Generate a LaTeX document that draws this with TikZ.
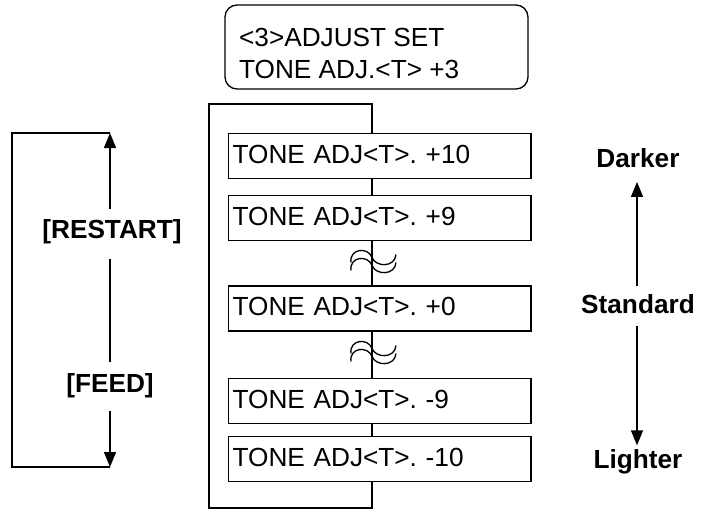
\documentclass[tikz,border=0pt]{standalone}
\usepackage{fontspec}
\setmainfont{Liberation Sans}
\usetikzlibrary{arrows.meta}
\frenchspacing
\begin{document}
\begin{tikzpicture}[x=1pt,y=-1pt,line width=1.3pt,
  txt/.style={font=\fontsize{26.2}{31}\selectfont\frenchspacing,inner sep=0pt},
  btxt/.style={font=\bfseries\fontsize{26.2}{31}\selectfont,inner sep=0pt},
  tbox/.style={draw,font=\fontsize{26.2}{31}\selectfont\frenchspacing,text width=294pt,
    inner xsep=4.4pt,inner ysep=0pt,minimum height=45pt,align=left,
    text height=19pt,text depth=5pt},
  arr/.style={-{Triangle[length=15pt,width=12pt]}},
  brk/.style={line width=1.3pt}
]
\useasboundingbox (0,0) rectangle (702,509);

% top display panel
\node[draw,rounded corners=12pt,minimum width=303pt,minimum height=84pt,inner sep=0pt] (panel) at (376.5,47) {};
\node[txt,anchor=base west] (p1) at (238.5,46.7) {<3>ADJUST SET};
\node[txt,anchor=base west] (p2) at (238.5,78.3) {TONE ADJ.<T> +3};

% boxes
\node[tbox] (b1) at (379.6,156.3) {\mbox{TONE ADJ<T>. +10}};
\node[tbox] (b2) at (379.6,218) {\mbox{TONE ADJ<T>. +9}};
\node[tbox] (b3) at (379.6,308.5) {\mbox{TONE ADJ<T>. +0}};
\node[tbox] (b4) at (379.6,401) {\mbox{TONE ADJ<T>. -9}};
\node[tbox] (b5) at (379.6,459) {\mbox{TONE ADJ<T>. -10}};

% frame
\coordinate (fa) at (372,104);
\coordinate (fb) at (209,104);
\coordinate (fc) at (209,508);
\coordinate (fd) at (372,508);
\draw (b1.north -| fa) -- (fa) -- (fb) -- (fc) -- (fd) -- (b5.south -| fa);
\draw (b1.south -| fa) -- (b2.north -| fa);
\draw (b2.south -| fa) -- (b3.north -| fa);
\draw (b3.south -| fa) -- (b4.north -| fa);
\draw (b4.south -| fa) -- (b5.north -| fa);

% break marks
\coordinate (k1) at (372,257.5);
\coordinate (k2) at (372,348.5);
\foreach \k in {k1,k2}{
  \begin{scope}[shift={(\k)}]
    \draw[brk] (-21,5) .. controls (-23,-9) and (-4,-11) .. (0,0) .. controls (4,10) and (23,10) .. (24,-3);
    \draw[brk] (-21,13) .. controls (-23,-1) and (-4,-3) .. (0,8) .. controls (4,18) and (23,18) .. (24,5);
  \end{scope}
}

% left keys
\coordinate (lt) at (110,133);
\coordinate (lb) at (110,467);
\coordinate (ltl) at (12,133);
\coordinate (lbl) at (12,467);
\node[btxt,anchor=base] (rs) at (112,238) {[RESTART]};
\node[btxt,anchor=base] (fe) at (110,392) {[FEED]};
\draw[arr,shorten <=9pt] (rs.north -| lt) -- (lt);
\draw (lt) -- (ltl) -- (lbl) -- (lb);
\draw[shorten <=14.5pt,shorten >=10.8pt] (rs.south -| lt) -- (fe.north -| lt);
\draw[arr,shorten <=12.5pt] (fe.south -| lt) -- (lb);

% right scale
\node[btxt,anchor=base] (dk) at (638,167) {Darker};
\node[btxt,anchor=base] (st) at (638,313) {Standard};
\node[btxt,anchor=base] (lg) at (638,468) {Lighter};
\coordinate (ra) at (637,0);
\draw[arr,shorten <=7pt,shorten >=14pt] (st.north -| ra) -- (dk.south -| ra);
\draw[arr,shorten <=12pt,shorten >=3pt] (st.south -| ra) -- (lg.north -| ra);
\end{tikzpicture}
\end{document}
